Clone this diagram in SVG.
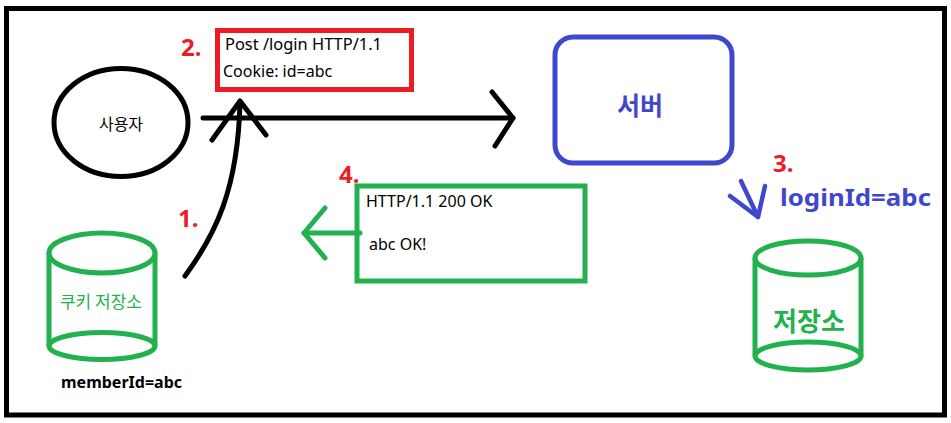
<svg xmlns="http://www.w3.org/2000/svg" width="951" height="423" viewBox="0 0 951 423">
<style>
.t{font-family:"Noto Sans","Noto Sans CJK KR",sans-serif;}
.k{font-family:"Noto Sans CJK KR","Noto Sans",sans-serif;}
.num{font-family:"Noto Sans","Noto Sans CJK KR",sans-serif;font-weight:bold;font-size:24px;fill:#ed1c24;}
.ln{fill:none;stroke-linecap:round;stroke-linejoin:round;}
.g{stroke:#22b14c;}
.b{stroke:#000;}
.bl{stroke:#3f48cc;}
</style>
<rect x="0" y="0" width="951" height="423" fill="#fff"/>
<rect x="6.5" y="8.5" width="938" height="406.5" fill="none" stroke="#000" stroke-width="5"/>

<g id="connectors">
  <g id="arrow-request">
    <path class="ln b" d="M203,118 L513,118" stroke-width="5"/>
    <path class="ln b" d="M492,92 L513,118 L495,146" stroke-width="5"/>
  </g>
  <g id="arrow-cookie">
    <path class="ln b" d="M185,276 C215,235 238,190 240,102" stroke-width="5"/>
    <path class="ln b" d="M212,140 L240,101 L266,135" stroke-width="5"/>
  </g>
  <g id="arrow-response">
    <path class="ln g" d="M360,233 L304,233" stroke-width="5"/>
    <path class="ln g" d="M325,208 L304,233 L325,258" stroke-width="5"/>
  </g>
  <g id="arrow-store">
    <path class="ln bl" d="M741,181 L758,217" stroke-width="4.5"/>
    <path class="ln bl" d="M730,196 L758,217 L765,186" stroke-width="4.5"/>
  </g>
</g>

<g id="user">
  <ellipse cx="121" cy="122.5" rx="67" ry="54" fill="none" stroke="#000" stroke-width="5"/>
  <text class="k" x="121" y="130" font-size="16" text-anchor="middle" fill="#000">사용자</text>
</g>

<g id="request">
  <rect x="217.5" y="30.5" width="194" height="59" fill="none" stroke="#ed1c24" stroke-width="5"/>
  <text class="t" x="225" y="50" font-size="16" fill="#000" textLength="157" lengthAdjust="spacingAndGlyphs">Post /login HTTP/1.1</text>
  <text class="t" x="223" y="77" font-size="16" fill="#000">Cookie: id=abc</text>
  <text class="num" x="181" y="56">2.</text>
</g>

<g id="server">
  <rect x="555" y="37" width="177" height="126" rx="18" fill="none" stroke="#3f48cc" stroke-width="5"/>
  <text class="k" x="640" y="115" font-size="25" font-weight="bold" text-anchor="middle" fill="#3f48cc">서버</text>
</g>

<g id="response">
  <rect x="357" y="186" width="228" height="95" fill="none" stroke="#22b14c" stroke-width="5"/>
  <text class="t" x="366" y="207" font-size="16" fill="#000">HTTP/1.1 200 OK</text>
  <text class="t" x="369" y="250" font-size="16" fill="#000">abc OK!</text>
  <text class="num" x="339" y="183">4.</text>
</g>

<g id="cookie-store">
  <path d="M49,253 L49,346 M155,253 L155,346" fill="none" stroke="#22b14c" stroke-width="5"/>
  <ellipse cx="102" cy="253" rx="53" ry="20" fill="none" stroke="#22b14c" stroke-width="5"/>
  <ellipse cx="102" cy="346" rx="53" ry="13.5" fill="none" stroke="#22b14c" stroke-width="5"/>
  <text class="k" x="101" y="308" font-size="17" text-anchor="middle" fill="#22b14c">쿠키 저장소</text>
  <text class="t" x="61" y="388" font-size="16" font-weight="bold" fill="#000">memberId=abc</text>
  <text class="num" x="178" y="227">1.</text>
</g>

<g id="storage">
  <path d="M755,258 L755,356 M861,258 L861,356" fill="none" stroke="#22b14c" stroke-width="5"/>
  <ellipse cx="808" cy="258" rx="53" ry="17" fill="none" stroke="#22b14c" stroke-width="5"/>
  <ellipse cx="808" cy="356" rx="53" ry="14" fill="none" stroke="#22b14c" stroke-width="5"/>
  <text class="k" x="809" y="331" font-size="26" font-weight="bold" text-anchor="middle" fill="#22b14c">저장소</text>
  <text class="t" x="780" y="206" font-size="24" font-weight="bold" fill="#3f48cc" textLength="151" lengthAdjust="spacingAndGlyphs">loginId=abc</text>
  <text class="num" x="773" y="172">3.</text>
</g>
</svg>
